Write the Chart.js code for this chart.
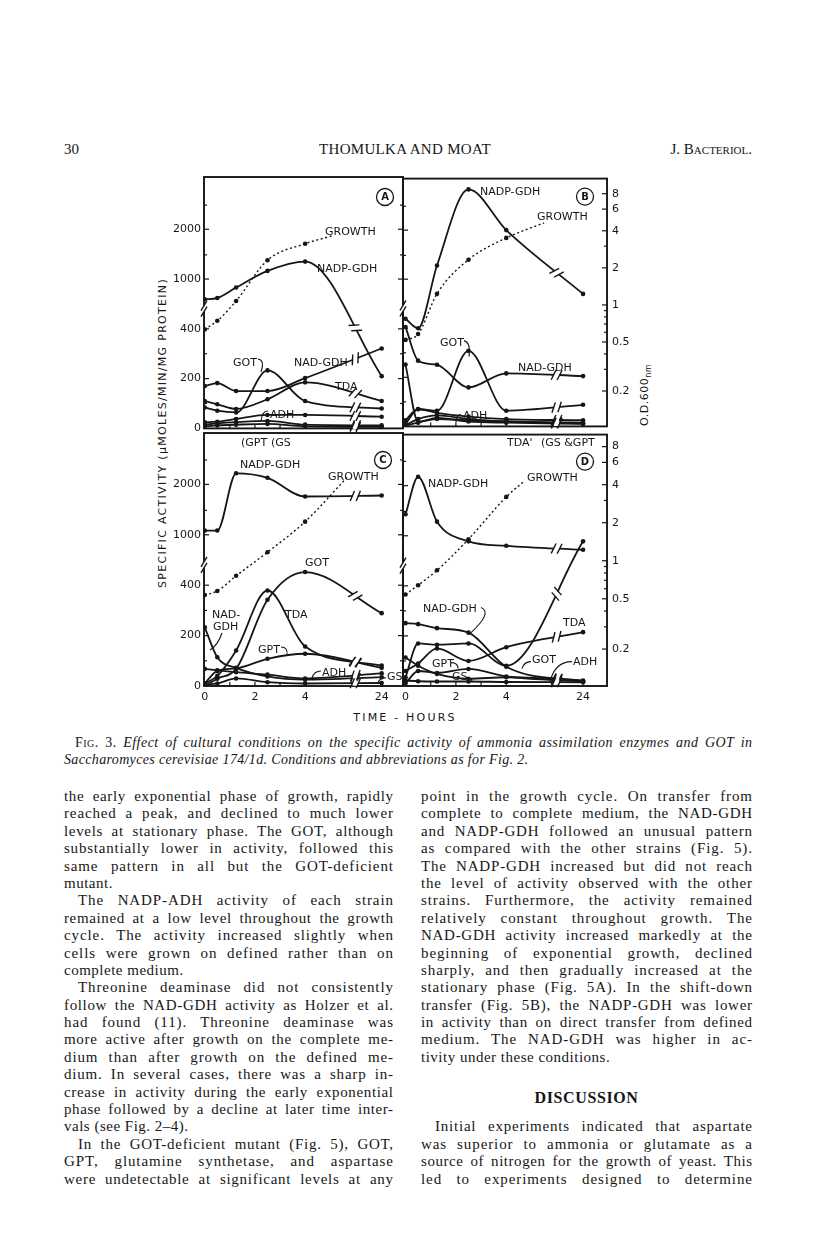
<!DOCTYPE html>
<html><head><meta charset="utf-8">
<script src="https://cdn.jsdelivr.net/npm/chart.js@4.4.1/dist/chart.umd.min.js"></script>
<style>
html,body{margin:0;padding:0;background:#fff}
body{width:816px;height:1260px;position:relative;overflow:hidden;color:#161616;font-family:"Liberation Serif","Times New Roman",serif}
canvas{position:absolute}
.t{position:absolute;white-space:nowrap}
.col{position:absolute;font-size:15px;line-height:17.4px;letter-spacing:0.5px}
.col div{height:17.4px;white-space:nowrap}
.ind{text-indent:14px}
.sans{font-family:"DejaVu Sans",sans-serif}
</style></head><body>

<div class="t" style="left:64px;top:141px;font-size:15px">30</div>
<div class="t" style="left:305px;top:141px;font-size:15px;width:200px;text-align:center;letter-spacing:0.3px">THOMULKA AND MOAT</div>
<div class="t" style="right:64px;top:141px;font-size:15px;font-variant:small-caps">J. Bacteriol.</div>

<div class="t sans" style="left:-17px;top:426px;width:360px;height:14px;line-height:14px;text-align:center;transform:rotate(-90deg);transform-origin:50% 50%;font-size:11px;letter-spacing:1.3px">SPECIFIC ACTIVITY (μMOLES/MIN/MG PROTEIN)</div>
<div class="t sans" style="left:605px;top:388px;width:80px;height:14px;line-height:14px;text-align:center;transform:rotate(-90deg);transform-origin:50% 50%;font-size:11px;letter-spacing:0.5px">O.D.600<sub style="font-size:8px">nm</sub></div>
<div class="t sans" style="left:305px;top:711px;width:200px;text-align:center;font-size:11px;letter-spacing:2.2px">TIME - HOURS</div>

<div class="t" style="left:64px;top:734px;width:688px;font-size:14px;line-height:17px">
 <div class="j" style="padding-left:11px;width:677px"><span style="font-variant:small-caps">Fig.</span> 3. <i>Effect of cultural conditions on the specific activity of ammonia assimilation enzymes and GOT in</i></div>
 <div style="letter-spacing:0.35px"><i>Saccharomyces cerevisiae 174/1d. Conditions and abbreviations as for Fig. 2.</i></div>
</div>

<div class="col" style="left:64px;top:788px;width:329px">
 <div class="j">the early exponential phase of growth, rapidly</div>
 <div class="j">reached a peak, and declined to much lower</div>
 <div class="j">levels at stationary phase. The GOT, although</div>
 <div class="j">substantially lower in activity, followed this</div>
 <div class="j">same pattern in all but the GOT-deficient</div>
 <div>mutant.</div>
 <div class="j ind">The NADP-ADH activity of each strain</div>
 <div class="j">remained at a low level throughout the growth</div>
 <div class="j">cycle. The activity increased slightly when</div>
 <div class="j">cells were grown on defined rather than on</div>
 <div>complete medium.</div>
 <div class="j ind">Threonine deaminase did not consistently</div>
 <div class="j">follow the NAD-GDH activity as Holzer et al.</div>
 <div class="j">had found (11). Threonine deaminase was</div>
 <div class="j">more active after growth on the complete me-</div>
 <div class="j">dium than after growth on the defined me-</div>
 <div class="j">dium. In several cases, there was a sharp in-</div>
 <div class="j">crease in activity during the early exponential</div>
 <div class="j">phase followed by a decline at later time inter-</div>
 <div>vals (see Fig. 2–4).</div>
 <div class="j ind">In the GOT-deficient mutant (Fig. 5), GOT,</div>
 <div class="j">GPT, glutamine synthetase, and aspartase</div>
 <div class="j">were undetectable at significant levels at any</div>
</div>

<div class="col" style="left:421px;top:788px;width:331px">
 <div class="j">point in the growth cycle. On transfer from</div>
 <div class="j">complete to complete medium, the NAD-GDH</div>
 <div class="j">and NADP-GDH followed an unusual pattern</div>
 <div class="j">as compared with the other strains (Fig. 5).</div>
 <div class="j">The NADP-GDH increased but did not reach</div>
 <div class="j">the level of activity observed with the other</div>
 <div class="j">strains. Furthermore, the activity remained</div>
 <div class="j">relatively constant throughout growth. The</div>
 <div class="j">NAD-GDH activity increased markedly at the</div>
 <div class="j">beginning of exponential growth, declined</div>
 <div class="j">sharply, and then gradually increased at the</div>
 <div class="j">stationary phase (Fig. 5A). In the shift-down</div>
 <div class="j">transfer (Fig. 5B), the NADP-GDH was lower</div>
 <div class="j">in activity than on direct transfer from defined</div>
 <div class="j">medium. The NAD-GDH was higher in ac-</div>
 <div>tivity under these conditions.</div>
 <div></div>
 <div style="text-align:center;font-weight:bold;font-size:16px;position:relative;top:5px;letter-spacing:0.6px">DISCUSSION</div>
 <div></div>
 <div class="j ind">Initial experiments indicated that aspartate</div>
 <div class="j">was superior to ammonia or glutamate as a</div>
 <div class="j">source of nitrogen for the growth of yeast. This</div>
 <div class="j">led to experiments designed to determine</div>
</div>

<canvas id="A" width="283" height="271" style="left:130px;top:167px"></canvas>
<canvas id="B" width="254" height="271" style="left:393px;top:167px"></canvas>
<canvas id="C" width="283" height="289" style="left:130px;top:423px"></canvas>
<canvas id="D" width="254" height="289" style="left:393px;top:423px"></canvas>

<script>
// justify the printed lines (letter spacing first, then word spacing)
document.querySelectorAll('.j').forEach(el => {
  el.innerHTML = '<span>' + el.innerHTML.trim() + '</span>';
  el.style.whiteSpace = 'nowrap';
  el.style.letterSpacing = '0px';
  const cs = getComputedStyle(el);
  const W = el.getBoundingClientRect().width - parseFloat(cs.paddingLeft) - parseFloat(cs.textIndent || 0);
  const sp = el.firstChild;
  const text = el.textContent.trim();
  const spaces = (text.match(/ /g) || []).length;
  let nat = sp.getBoundingClientRect().width;
  const ls = Math.max(-0.3, Math.min(0.9, (W - nat) * 0.55 / text.length));
  el.style.letterSpacing = ls + 'px';
  nat = sp.getBoundingClientRect().width - ls;
  if (spaces) el.style.wordSpacing = ((W - nat) / spaces) + 'px';
});

// ---------------- data ----------------
const times = [0, 0.5, 1.25, 2.5, 4, 24];
const timeTickValues = [0, 2, 4, 24];
const timeMarkValues = [1, 2, 3, 4, 24];
const activityTickValues = [0, 200, 400, 1000, 2000];
const activityMinorValues = [100, 300, 1400, 2800];
const odTickValues = [8, 6, 4, 2, 1, 0.5, 0.2];
const odMinorValues = [3, 0.9, 0.8, 0.7, 0.6, 0.4, 0.3];

// Panel A
const aNadpGdh = [690, 705, 855, 1120, 1275, 210];
const aNadGdh  = [170, 182, 150, 150, 202, 321];
const aTda     = [110, 97, 78, 117, 185, 110];
const aGot     = [84, 71, 64, 233, 110, 80];
const aAdh     = [25, 27, 38, 54, 54, 47];
const aGpt     = [15, 20, 25, 30, 15, 12];
const aGs      = [8, 12, 15, 18, 8, 6];
const aGrowthTimes = [0, 0.5, 1.25, 2.5, 4, 5.1];
const aGrowth  = [0.64, 0.75, 1.08, 2.29, 3.10, 3.60];

// Panel B
const bNadpGdh = [478, 400, 1214, 3556, 2000, 760];
const bNadGdh  = [410, 268, 251, 159, 216, 205];
const bGot     = [25, 71, 64, 308, 64, 88];
const bTda     = [252, 20, 30, 25, 20, 15];
const bAdh     = [10, 70, 55, 40, 30, 25];
const bGpt     = [5, 30, 45, 30, 20, 12];
const bGs      = [3, 15, 35, 20, 15, 10];
const bGrowthTimes = [0, 0.5, 1.25, 2.5, 4, 5.5];
const bGrowth  = [0.52, 0.58, 1.23, 2.33, 3.50, 4.64];

// Panel C
const cNadpGdh = [1060, 1060, 2330, 2190, 1694, 1717];
const cGot     = [0, 29, 68, 342, 508, 289];
const cTda     = [9, 40, 141, 379, 157, 81];
const cGpt     = [10, 60, 70, 108, 128, 72];
const cNadGdh  = [233, 114, 72, 38, 25, 35];
const cAdh     = [68, 62, 55, 45, 30, 50];
const cGs      = [5, 10, 30, 15, 10, 12];
const cGrowthTimes = [0, 0.5, 1.25, 2.5, 4, 5.7];
const cGrowth  = [0.53, 0.57, 0.75, 1.15, 2.0, 4.52];

// Panel D
const dNadpGdh = [1346, 2262, 1216, 903, 832, 774];
const dNadGdh  = [251, 247, 231, 213, 77, 19];
const dGot     = [35, 170, 165, 170, 81, 903];
const dTda     = [60, 90, 150, 100, 155, 215];
const dAdh     = [114, 81, 48, 29, 35, 22];
const dGpt     = [10, 60, 52, 68, 38, 19];
const dGs      = [22, 19, 18, 18, 16, 15];
const dGrowthTimes = [0, 0.5, 1.25, 2.5, 4, 4.7];
const dGrowth  = [0.54, 0.64, 0.84, 1.48, 3.20, 4.25];

// ---------------- styling / layout ----------------
const INK = '#161616';
const SANS = 'DejaVu Sans';
const axisBreakValue = 580;
const lineBreakPos = 6;

const decor = {
  A: { letter:'A', circle:[181,20],
       labels:[['GROWTH',121,55],['NADP-GDH',113,92],['GOT',29,186],['NAD-GDH',90,186],['TDA',131,210],['ADH',66,238]],
       leaders:[[54,182,61,183,57,195],[64,234,58,234,57,244]],
       leftTicks:'act', rightTicks:'act' },
  B: { letter:'B', circle:[182,18],
       labels:[['NADP-GDH',77,14],['GROWTH',134,39],['GOT',37,165],['NAD-GDH',115,190],['ADH',60,238]],
       leaders:[[61,162,68,164,66,178],[58,236,53,236,53,244]],
       leftTicks:'act', rightTicks:'od' },
  C: { letter:'C', circle:[179,27],
       labels:[['(GPT',37,10],['(GS',67,10],['NADP-GDH',36,32],['GROWTH',124,44],['GOT',101,130],['TDA',81,182],['NAD-',8,182],['GDH',9,194],['GPT',54,217],['ADH',118,240],['GS',183,244]],
       leaders:[[18,200,14,212,6,217],[77,214,84,214,83,222],[117,238,110,238,108,245],[182,245,176,244,174,250]],
       leftTicks:'act', rightTicks:'act' },
  D: { letter:'D', circle:[182,27],
       labels:[["TDA'",104,9],['(GS &GPT',138,9],['NADP-GDH',25,50],['GROWTH',124,44],['NAD-GDH',20,175],['TDA',160,189],['GOT',129,226],['ADH',170,228],['GPT',29,230],['GS',49,243]],
       leaders:[[78,173,90,178,67,199],[128,227,121,227,119,234],[169,227,152,227,147,247],[48,228,55,228,55,234],[63,243,69,243,69,247]],
       leftTicks:'act', rightTicks:'od' }
};

// ---------------- scales ----------------
function actToU(v){ if (v <= 400) return v / 200; if (v < 1000) return 2 + Math.log(v / 400) / Math.log(2.5); return 3 + Math.log2(v / 1000); }
function timeToPos(t){ return t <= 6 ? t : 6 + (t - 6) * (1.05 / 18); }

class ActivityScale extends Chart.LinearScale {
  static id = 'activity';
  static defaults = {};
  buildTicks(){ return activityTickValues.map(v => ({value: v})); }
  getPixelForValue(v){ if (v === null || v === undefined || isNaN(v)) return NaN; return super.getPixelForValue(actToU(v)); }
}
class TimeBreakScale extends Chart.LinearScale {
  static id = 'timebreak';
  static defaults = {};
  buildTicks(){ return timeTickValues.map(v => ({value: v})); }
  getPixelForValue(v){ if (v === null || v === undefined || isNaN(v)) return NaN; return super.getPixelForValue(timeToPos(v)); }
}
Chart.register(ActivityScale, TimeBreakScale);

// ---------------- decoration plugin ----------------
function bz(P, s, k){ const m = 1 - s; return m*m*m*P[0][k] + 3*m*m*s*P[1][k] + 3*m*s*s*P[2][k] + s*s*s*P[3][k]; }
function bzd(P, s, k){ const m = 1 - s; return 3*m*m*(P[1][k]-P[0][k]) + 6*m*s*(P[2][k]-P[1][k]) + 3*s*s*(P[3][k]-P[2][k]); }

function edgeTicks(ctx, chart, kind, x, dir){
  if (kind === 'act'){
    const s = chart.scales.y;
    activityTickValues.forEach(v => { const y = s.getPixelForValue(v); if (v > 0){ ctx.beginPath(); ctx.moveTo(x, y); ctx.lineTo(x + dir*5, y); ctx.stroke(); } });
    activityMinorValues.forEach(v => { const y = s.getPixelForValue(v); ctx.beginPath(); ctx.moveTo(x, y); ctx.lineTo(x + dir*3, y); ctx.stroke(); });
  } else {
    const s = chart.scales.od;
    odTickValues.forEach(v => { const y = s.getPixelForValue(v); ctx.beginPath(); ctx.moveTo(x, y); ctx.lineTo(x + dir*5, y); ctx.stroke(); });
    odMinorValues.forEach(v => { const y = s.getPixelForValue(v); ctx.beginPath(); ctx.moveTo(x, y); ctx.lineTo(x + dir*3, y); ctx.stroke(); });
  }
}

const decorPlugin = {
  id: 'decor',
  beforeDatasetsDraw(chart){
    const d = decor[chart.canvas.id], ctx = chart.ctx, a = chart.chartArea;
    ctx.save();
    ctx.strokeStyle = INK; ctx.lineWidth = 1.9;
    ctx.strokeRect(a.left, a.top, a.right - a.left, a.bottom - a.top);
    ctx.lineWidth = 1.2;
    edgeTicks(ctx, chart, d.leftTicks, a.left, 1);
    edgeTicks(ctx, chart, d.rightTicks, a.right, -1);
    const xs = chart.scales.x;
    timeMarkValues.forEach(t => { const x = xs.getPixelForValue(t); ctx.beginPath(); ctx.moveTo(x, a.bottom); ctx.lineTo(x, a.bottom - 4); ctx.stroke(); });
    const yb = chart.scales.y.getPixelForValue(axisBreakValue);
    ctx.fillStyle = '#fff'; ctx.fillRect(a.left - 2, yb - 3, 4, 6);
    ctx.lineWidth = 1.4;
    [-3, 3].forEach(o => { ctx.beginPath(); ctx.moveTo(a.left - 3, yb + o + 5); ctx.lineTo(a.left + 3, yb + o - 5); ctx.stroke(); });
    ctx.restore();
  },
  afterDatasetsDraw(chart){
    const d = decor[chart.canvas.id], ctx = chart.ctx, a = chart.chartArea;
    ctx.save();
    ctx.strokeStyle = INK; ctx.fillStyle = INK;
    const xb = chart.scales.x.getPixelForValue(lineBreakPos);
    chart.data.datasets.forEach((ds, i) => {
      const n = ds.data.length;
      if (ds.data[n-1].x !== 24) return;
      const pts = chart.getDatasetMeta(i).data;
      const p = pts[n-2], q = pts[n-1];
      const P = [[p.x, p.y], [p.cp2x ?? p.x, p.cp2y ?? p.y], [q.cp1x ?? q.x, q.cp1y ?? q.y], [q.x, q.y]];
      let best = 0, bd = 1e9;
      for (let s = 0; s <= 1.0001; s += 0.004){ const dd = Math.abs(bz(P, s, 0) - xb); if (dd < bd){ bd = dd; best = s; } }
      const y = bz(P, best, 1), ang = Math.atan2(bzd(P, best, 1), bzd(P, best, 0));
      ctx.save(); ctx.translate(xb, y); ctx.rotate(ang);
      ctx.fillStyle = '#fff'; ctx.fillRect(-2.6, -2.5, 5.2, 5);
      ctx.lineWidth = 1.4;
      [-3, 3].forEach(o => { ctx.beginPath(); ctx.moveTo(o - 2.2, 5); ctx.lineTo(o + 2.2, -5); ctx.stroke(); });
      ctx.restore();
    });
    ctx.fillStyle = INK;
    ctx.font = '11px "' + SANS + '"';
    ctx.textBaseline = 'middle'; ctx.textAlign = 'left';
    d.labels.forEach(([txt, dx, dy]) => ctx.fillText(txt, a.left + dx, a.top + dy));
    ctx.lineWidth = 1.1;
    d.leaders.forEach(([x1, y1, cx, cy, x2, y2]) => { ctx.beginPath(); ctx.moveTo(a.left + x1, a.top + y1); ctx.quadraticCurveTo(a.left + cx, a.top + cy, a.left + x2, a.top + y2); ctx.stroke(); });
    const [cxp, cyp] = d.circle;
    ctx.lineWidth = 1.3;
    ctx.beginPath(); ctx.arc(a.left + cxp, a.top + cyp, 8.5, 0, Math.PI * 2); ctx.stroke();
    ctx.font = 'bold 10px "' + SANS + '"'; ctx.textAlign = 'center';
    ctx.fillText(d.letter, a.left + cxp, a.top + cyp + 0.5);
    ctx.restore();
  }
};

// ---------------- chart builder ----------------
function series(t, v, od){ return {t, v, od: !!od}; }

const panelCfg = {
  A: { pad:{left:0, top:10, right:10, bottom:5}, showLeft:true, showRight:false, showX:false, xmin:-0.03, xmax:7.9, ymax:5.05, odmin:0.1032, odmax:10.61,
       series:[series(times,aNadpGdh), series(times,aNadGdh), series(times,aTda), series(times,aGot), series(times,aAdh), series(times,aGpt), series(times,aGs), series(aGrowthTimes,aGrowth,true)] },
  B: { pad:{left:10, top:10, right:0, bottom:5}, showLeft:false, showRight:true, showX:false, xmin:-0.1, xmax:8.0, ymax:5.05, odmin:0.1032, odmax:10.61,
       series:[series(times,bNadpGdh), series(times,bNadGdh), series(times,bGot), series(times,bTda), series(times,bAdh), series(times,bGpt), series(times,bGs), series(bGrowthTimes,bGrowth,true)] },
  C: { pad:{left:0, top:10, right:10, bottom:4}, showLeft:true, showRight:false, showX:true, xmin:-0.03, xmax:7.9, ymax:5.02, odmin:0.102, odmax:9.96,
       series:[series(times,cNadpGdh), series(times,cGot), series(times,cTda), series(times,cGpt), series(times,cNadGdh), series(times,cAdh), series(times,cGs), series(cGrowthTimes,cGrowth,true)] },
  D: { pad:{left:10, top:10, right:0, bottom:4}, showLeft:false, showRight:true, showX:true, xmin:-0.1, xmax:8.0, ymax:5.02, odmin:0.102, odmax:9.96,
       series:[series(times,dNadpGdh), series(times,dNadGdh), series(times,dGot), series(times,dTda), series(times,dAdh), series(times,dGpt), series(times,dGs), series(dGrowthTimes,dGrowth,true)] }
};

const tickFont = {family: SANS, size: 11};
const noGrid = {display:false, drawTicks:false, tickLength:0};

Object.keys(panelCfg).forEach(id => {
  const p = panelCfg[id];
  const datasets = p.series.map(s => ({
    data: s.t.map((t, i) => ({x: t, y: s.v[i]})),
    yAxisID: s.od ? 'od' : 'y',
    borderColor: INK, backgroundColor: INK,
    borderWidth: s.od ? 1.4 : 1.8,
    borderDash: s.od ? [2, 2.6] : [],
    pointRadius: s.t.map((t, i) => (s.od && i === s.t.length - 1) ? 0 : 2.3),
    pointBackgroundColor: INK, pointBorderWidth: 0,
    cubicInterpolationMode: 'monotone', fill: false
  }));
  new Chart(document.getElementById(id), {
    type: 'line',
    data: { datasets },
    plugins: [decorPlugin],
    options: {
      responsive: false, animation: false, devicePixelRatio: 1,
      layout: { padding: p.pad },
      plugins: { legend: {display:false}, tooltip: {enabled:false} },
      scales: {
        x: { type:'timebreak', min:p.xmin, max:p.xmax, display:p.showX, position:'bottom',
             grid:noGrid, border:{display:false},
             ticks:{autoSkip:false, maxRotation:0, padding:5, font:tickFont, color:INK, callback:v => String(v)},
             afterFit: s => { s.height = s.options.display ? 22 : 0; } },
        y: { type:'activity', min:0, max:p.ymax, display:p.showLeft, position:'left',
             grid:noGrid, border:{display:false},
             ticks:{autoSkip:false, padding:3, font:tickFont, color:INK, callback:v => String(v)},
             afterFit: s => { s.width = s.options.display ? 74 : 0; } },
        od: { type:'logarithmic', min:p.odmin, max:p.odmax, display:p.showRight, position:'right',
              grid:noGrid, border:{display:false},
              afterBuildTicks: s => { s.ticks = odTickValues.map(v => ({value: v})); },
              ticks:{autoSkip:false, padding:5, font:tickFont, color:INK, callback:v => String(v)},
              afterFit: s => { s.width = s.options.display ? 40 : 0; } }
      }
    }
  });
});
</script>
</body></html>
